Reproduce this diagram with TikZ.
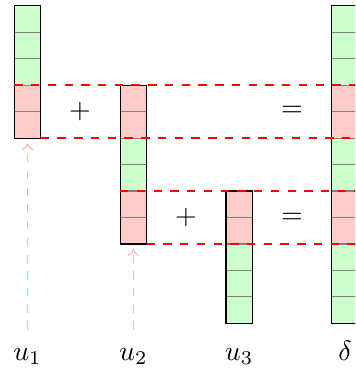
\documentclass[tikz,border=0pt]{standalone}
\usetikzlibrary{fit,arrows.meta}
\tikzset{
  cellbase/.style={draw=gray, minimum size=0.3333cm, inner sep=0pt, outer sep=0pt},
  cellg/.style={cellbase, fill=green!20},
  cellr/.style={cellbase, fill=red!20},
  colframe/.style={draw=black, inner sep=0pt, outer sep=0pt},
  cmpline/.style={red, dashed, thick},
  ptr/.style={red!30, dashed, -{To[length=2.5pt,width=4pt]}, shorten <=3pt, shorten >=1.8pt},
  lab/.style={anchor=base, inner sep=3.33pt},
}
\begin{document}
\begin{tikzpicture}[x=0.3333cm, y=-0.3333cm]
\useasboundingbox (0,0) rectangle (13.42,14.06);
\clip (0,0) rectangle (13.42,14.06);
% column u1
\foreach \c [count=\i] in {g,g,g,r,r}
  \node[cell\c] (a\i) at (1.04,{\i-0.28}) {};
\node[colframe, fit=(a1)(a5)] (A) {};
% column u2
\foreach \c [count=\i] in {r,r,g,g,r,r}
  \node[cell\c] (b\i) at (5.04,{\i+2.72}) {};
\node[colframe, fit=(b1)(b6)] (B) {};
% column u3
\foreach \c [count=\i] in {r,r,g,g,g}
  \node[cell\c] (c\i) at (9.04,{\i+6.72}) {};
\node[colframe, fit=(c1)(c5)] (C) {};
% column delta
\foreach \c [count=\i] in {g,g,g,r,r,g,g,r,r,g,g,g}
  \node[cell\c] (d\i) at (13.04,{\i-0.28}) {};
\node[colframe, fit=(d1)(d12)] (D) {};
% comparison lines
\draw[cmpline] (a4.north west) -- (d4.north east);
\draw[cmpline] (a5.south east) -- (d5.south east);
\draw[cmpline] (b5.north west) -- (d8.north east);
\draw[cmpline] (b6.south east) -- (d9.south east);
% operators
\node (p1) at (3.02,4.22) {$+$};
\node (e1) at (11.04,4.22) {$=$};
\node (p2) at (7.03,8.24) {$+$};
\node (e2) at (11.04,8.24) {$=$};
% labels
\node[lab] (l1) at (1.04,13.61) {$u_1$};
\node[lab] (l2) at (5.04,13.61) {$u_2$};
\node[lab] (l3) at (9.04,13.61) {$u_3$};
\node[lab] (l4) at (13.04,13.61) {$\delta$};
% pointers
\draw[ptr] (l1.north) -- (A.south);
\draw[ptr] (l2.north) -- (B.south);
\end{tikzpicture}
\end{document}
